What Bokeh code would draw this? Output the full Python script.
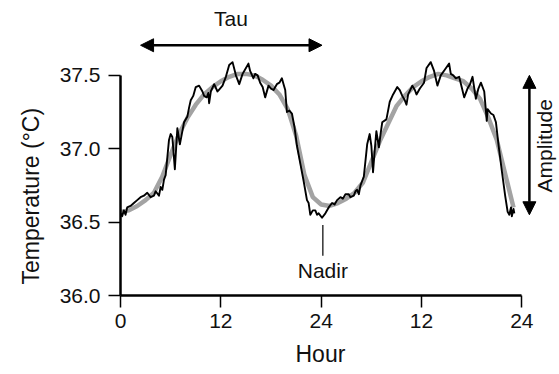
from bokeh.plotting import figure
from bokeh.models import Range1d, FixedTicker, Arrow, NormalHead, Label, Title
from bokeh.embed import file_html
from bokeh.resources import INLINE
import math

# Fitted (smoothed) core body temperature, hourly over two days
fit_hours = list(range(0, 48))
fit_temp = [
    36.57, 36.58, 36.61, 36.65, 36.70, 36.81, 36.96, 37.10, 37.21, 37.30,
    37.37, 37.42, 37.46, 37.49, 37.51, 37.51, 37.50, 37.47, 37.43, 37.37,
    37.27, 37.09, 36.82, 36.67, 36.62, 36.61, 36.63, 36.66, 36.70, 36.77,
    36.91, 37.05, 37.17, 37.29, 37.36, 37.42, 37.46, 37.49, 37.51, 37.50,
    37.48, 37.46, 37.41, 37.34, 37.21, 37.06, 36.83, 36.60,
]

# Recorded core body temperature
raw_hours = [
    0.0, 0.2, 0.4, 0.6, 0.8, 1.2, 1.6, 2.0, 2.4, 2.8, 3.2, 3.6, 4.0, 4.2, 4.6,
    4.8, 5.0, 5.2, 5.4, 5.8, 6.0, 6.2, 6.5, 6.8, 7.1, 7.4, 7.6, 8.0, 8.2, 8.4,
    8.7, 9.0, 9.4, 9.8, 10.0, 10.3, 10.5, 10.6, 10.8, 11.2, 11.6, 11.9, 12.2,
    12.6, 13.0, 13.4, 13.8, 14.2, 14.6, 14.9, 15.3, 15.5, 15.9, 16.1, 16.4,
    16.7, 17.0, 17.3, 17.7, 18.0, 18.3, 18.7, 19.0, 19.3, 19.5, 19.7, 19.9,
    20.2, 20.5, 20.8, 21.1, 21.5, 21.9, 22.3, 22.5, 22.7, 23.0, 23.3, 23.5,
    23.7, 24.1, 24.5, 24.9, 25.3, 25.6, 25.9, 26.3, 26.6, 26.9, 27.3, 27.5,
    27.9, 28.1, 28.3, 28.5, 28.7, 28.9, 29.1, 29.5, 29.8, 30.0, 30.2, 30.4,
    30.6, 30.9, 31.1, 31.3, 31.8, 32.0, 32.2, 32.6, 33.1, 33.4, 33.7, 34.0,
    34.2, 34.4, 34.9, 35.2, 35.4, 35.8, 36.3, 36.6, 37.1, 37.5, 37.9, 38.3,
    38.8, 39.3, 39.5, 39.8, 40.1, 40.5, 40.8, 41.1, 41.5, 41.8, 42.1, 42.5,
    42.8, 43.1, 43.5, 43.8, 43.9, 44.3, 44.6, 44.9, 45.2, 45.6, 46.0, 46.3,
    46.5, 46.7, 46.8, 47.0, 47.1,
]
raw_temp = [
    36.56, 36.54, 36.58, 36.55, 36.60, 36.61, 36.63, 36.65, 36.67, 36.68, 36.70,
    36.67, 36.68, 36.71, 36.68, 36.74, 36.72, 36.79, 36.82, 37.06, 37.10, 37.08,
    36.86, 37.14, 37.03, 37.12, 37.18, 37.22, 37.28, 37.33, 37.36, 37.42, 37.43,
    37.39, 37.36, 37.35, 37.38, 37.31, 37.39, 37.44, 37.39, 37.41, 37.43, 37.49,
    37.57, 37.59, 37.50, 37.44, 37.51, 37.54, 37.58, 37.53, 37.48, 37.51, 37.50,
    37.45, 37.42, 37.35, 37.43, 37.41, 37.40, 37.44, 37.45, 37.48, 37.44, 37.40,
    37.25, 37.26, 37.24, 37.15, 37.02, 36.90, 36.78, 36.65, 36.63, 36.55, 36.58,
    36.58, 36.55, 36.56, 36.53, 36.56, 36.60, 36.63, 36.62, 36.65, 36.67, 36.66,
    36.69, 36.69, 36.67, 36.68, 36.71, 36.72, 36.69, 36.75, 36.78, 36.81, 37.03,
    37.10, 37.02, 36.84, 36.99, 37.12, 37.01, 37.10, 37.18, 37.20, 37.26, 37.32,
    37.37, 37.42, 37.40, 37.36, 37.33, 37.30, 37.37, 37.43, 37.40, 37.37, 37.41,
    37.45, 37.55, 37.59, 37.53, 37.43, 37.50, 37.54, 37.58, 37.51, 37.50, 37.48,
    37.49, 37.42, 37.35, 37.41, 37.44, 37.49, 37.34, 37.41, 37.45, 37.39, 37.19,
    37.27, 37.24, 37.23, 37.18, 37.03, 36.85, 36.68, 36.57, 36.55, 36.60, 36.54,
    36.59, 36.56,
]

# Axis ticks: two consecutive days, clock hours repeat
x_ticks = [0, 12, 24, 36, 48]
x_tick_labels = ["0", "12", "24", "12", "24"]
y_ticks = [36.0, 36.5, 37.0, 37.5]
y_tick_labels = ["36.0", "36.5", "37.0", "37.5"]

FONT = "Liberation Sans"
FS = "21px"
INK = "#111111"

p = figure(
    width=559, height=374,
    x_range=Range1d(0, 52.5), y_range=Range1d(36.0, 38.01),
    output_backend="svg", toolbar_location=None,
    min_border_left=120, min_border_right=0,
    min_border_top=0, min_border_bottom=79,
)
p.outline_line_color = None
p.grid.visible = False
p.background_fill_color = "white"
p.border_fill_color = "white"

# fitted rhythm underneath, raw trace on top
p.line(fit_hours, fit_temp, line_color="#a3a3a3", line_width=4.5)
p.line(raw_hours, raw_temp, line_color="black", line_width=1.9, line_join="round")

for ax in (p.xaxis[0], p.yaxis[0]):
    ax.axis_line_width = 2.5
    ax.axis_line_color = "black"
    ax.major_tick_line_width = 1.5
    ax.major_tick_line_color = "black"
    ax.major_tick_in = 0
    ax.major_tick_out = 12
    ax.minor_tick_line_color = None
    ax.major_label_text_font = FONT
    ax.major_label_text_font_size = FS
    ax.major_label_text_color = INK

p.xaxis.ticker = FixedTicker(ticks=x_ticks)
p.xaxis.major_label_overrides = dict(zip(x_ticks, x_tick_labels))
p.xaxis.bounds = (0, 48)
p.xaxis.major_label_standoff = 6

p.yaxis.ticker = FixedTicker(ticks=y_ticks)
p.yaxis.major_label_overrides = dict(zip(y_ticks, y_tick_labels))
p.yaxis.bounds = (36.0, 37.5)
p.yaxis.major_label_standoff = 8

# axis titles, placed along the drawn extent of each axis
title_style = dict(text_font=FONT, text_font_size="23px", text_color=INK,
                   text_font_style="normal", align="left")
p.add_layout(Title(text="Hour", offset=175, standoff=16, **title_style), "below")
p.add_layout(Title(text="Temperature (°C)", offset=11, standoff=25, **title_style), "left")

text_style = dict(text_font=FONT, text_font_size=FS, text_color=INK,
                  text_align="center", text_baseline="middle")

# Tau: period arrow across the top
head = dict(size=13, fill_color="black", line_color="black", line_width=1)
p.add_layout(Arrow(start=NormalHead(**head), end=NormalHead(**head),
                   x_start=2.4, y_start=37.705, x_end=24.1, y_end=37.705,
                   line_width=2.5, line_color="black"))
p.add_layout(Label(x=13.2, y=37.885, text="Tau", **text_style))

# Amplitude: peak-to-trough arrow at the right
p.add_layout(Arrow(start=NormalHead(**head), end=NormalHead(**head),
                   x_start=48.9, y_start=37.5, x_end=48.9, y_end=36.55,
                   line_width=2.5, line_color="black"))
p.add_layout(Label(x=50.7, y=37.02, text="Amplitude", angle=math.pi / 2,
                   **text_style))

# Nadir marker
p.segment(x0=[24.2], y0=[36.27], x1=[24.2], y1=[36.48], line_color="black", line_width=1.2)
p.add_layout(Label(x=24.2, y=36.17, text="Nadir", **text_style))

open("out.html", "w").write(file_html(p, INLINE))
